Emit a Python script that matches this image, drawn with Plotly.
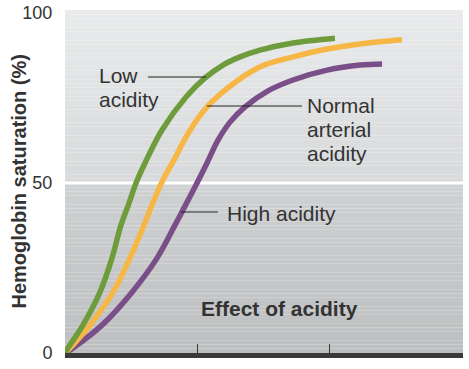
import plotly.graph_objects as go

# Data (x in arbitrary PO2 units, y = % saturation)
low_x = [0.0, 0.023, 0.136, 0.265, 0.356, 0.424, 0.485, 0.538, 0.606, 0.735, 0.917, 1.061, 1.197, 1.326,
         1.477, 1.727, 2.045]
low_y = [0.0, 1.5, 8.2, 17.9, 27.9, 37.6, 44.1, 50.0, 55.9, 65.6, 75.3, 80.9, 84.7, 87.1, 89.1, 91.2, 92.6]

normal_x = [0.0, 0.061, 0.189, 0.364, 0.492, 0.598, 0.674, 0.742, 0.826, 0.939, 1.076, 1.303, 1.492, 1.727,
            1.985, 2.235, 2.553]
normal_y = [0.0, 2.4, 8.2, 17.9, 27.9, 37.6, 45.0, 50.9, 56.8, 65.0, 72.4, 80.0, 84.4, 87.1, 89.4, 90.9, 92.1]

high_x = [0.0, 0.061, 0.280, 0.508, 0.697, 0.833, 0.894, 1.0, 1.076, 1.159, 1.25, 1.364, 1.538, 1.727,
          1.985, 2.235, 2.402]
high_y = [0.0, 1.5, 8.2, 17.9, 27.9, 37.6, 42.1, 50.0, 55.9, 62.6, 67.9, 72.4, 77.1, 80.3, 83.2, 84.7, 85.0]

y_ticks = [0, 50, 100]
y_tick_labels = ["0", "50", "100"]
x_ticks = [1, 2]

W, H = 469, 369
PL, PR, PT, PB = 65, 463, 10, 353  # plot area in page pixels
L, R, T, B = PL, W - PR, PT, H - PB
XMAX = 3.015
YMAX = (PB - PT) / 3.4


def px2x(px):
    return (px - PL) / (PR - PL) * XMAX


def py2y(py):
    return (PB - py) / (PB - PT) * YMAX


fig = go.Figure()


def lerp(a, b, t):
    return tuple(int(round(a[i] + (b[i] - a[i]) * t)) for i in range(3))


shapes = []
n = 40
top_c, mid_c = (233, 234, 235), (215, 217, 218)
mid2_c, bot_c = (207, 209, 210), (188, 190, 191)
for i in range(n):
    y0 = 50 + (YMAX - 50) * i / n
    y1 = 50 + (YMAX - 50) * (i + 1) / n
    c = lerp(mid_c, top_c, (i + 0.5) / n)
    shapes.append(dict(type="rect", xref="x", yref="y", x0=0, x1=XMAX, y0=y0, y1=y1,
                       fillcolor="rgb(%d,%d,%d)" % c, line_width=0, layer="below"))
for i in range(n):
    y0 = 50 * i / n
    y1 = 50 * (i + 1) / n
    c = lerp(bot_c, mid2_c, (i + 0.5) / n)
    shapes.append(dict(type="rect", xref="x", yref="y", x0=0, x1=XMAX, y0=y0, y1=y1,
                       fillcolor="rgb(%d,%d,%d)" % c, line_width=0, layer="below"))
shapes.append(dict(type="line", xref="x", yref="y", x0=0, x1=XMAX, y0=50, y1=50,
                   line=dict(color="white", width=3), layer="below"))

# leader lines
leader = dict(color="#222222", width=1)
for x0, x1, yy in [(148, 206, 77), (207, 302, 106), (181, 218, 212)]:
    shapes.append(dict(type="line", xref="x", yref="y", x0=px2x(x0), x1=px2x(x1),
                       y0=py2y(yy), y1=py2y(yy), line=leader))

green = "#6e9c3c"
orange = "#f6b746"
purple = "#7a4e88"
for xs, ys, col in [(high_x, high_y, purple), (normal_x, normal_y, orange), (low_x, low_y, green)]:
    fig.add_trace(go.Scatter(x=xs, y=ys, mode="lines",
                             line=dict(color=col, width=5.5, shape="spline", smoothing=1.0),
                             hoverinfo="skip", showlegend=False))

FONT = "Liberation Sans, Arial, Helvetica, sans-serif"
txt_font = dict(family=FONT, size=21, color="#333333")
annotations = []
for text, px, py in [("Low", 98, 75), ("acidity", 98, 99), ("Normal", 306, 105), ("arterial", 306, 129),
                     ("acidity", 306, 153), ("High acidity", 226, 213)]:
    annotations.append(dict(x=px2x(px), y=py2y(py), xref="x", yref="y", text=text, showarrow=False,
                            xanchor="left", yanchor="middle", font=txt_font, xshift=-1))
annotations.append(dict(x=px2x(279), y=py2y(308), xref="x", yref="y", text="<b>Effect of acidity</b>",
                        showarrow=False, xanchor="center", yanchor="middle", font=txt_font))
annotations.append(dict(x=(18 - PL) / (PR - PL), y=0.5, xref="paper", yref="paper",
                        text="<b>Hemoglobin saturation (%)</b>", showarrow=False, textangle=-90,
                        xanchor="center", yanchor="middle", font=dict(family=FONT, size=20, color="#333333")))

fig.update_layout(
    width=W, height=H,
    margin=dict(l=L, r=R, t=T, b=B, autoexpand=False),
    paper_bgcolor="white", plot_bgcolor="white",
    shapes=shapes, annotations=annotations,
    xaxis=dict(range=[0, XMAX], showgrid=False, zeroline=False, showline=True, linecolor="#3a3a3a", linewidth=5,
               tickmode="array", tickvals=x_ticks, ticks="inside", ticklen=9, tickwidth=1, tickcolor="#3a3a3a",
               showticklabels=False, fixedrange=True),
    yaxis=dict(range=[0, YMAX], showgrid=False, zeroline=False, showline=False,
               tickmode="array", tickvals=y_ticks, ticktext=y_tick_labels, ticks="outside", ticklen=8,
               tickcolor="rgba(0,0,0,0)", ticklabeloverflow="allow",
               tickfont=dict(family=FONT, size=18, color="#333333"), fixedrange=True),
)

fig.write_html("out.html", config={"displayModeBar": False, "staticPlot": True},
               post_script="document.body.style.margin='0px';")
